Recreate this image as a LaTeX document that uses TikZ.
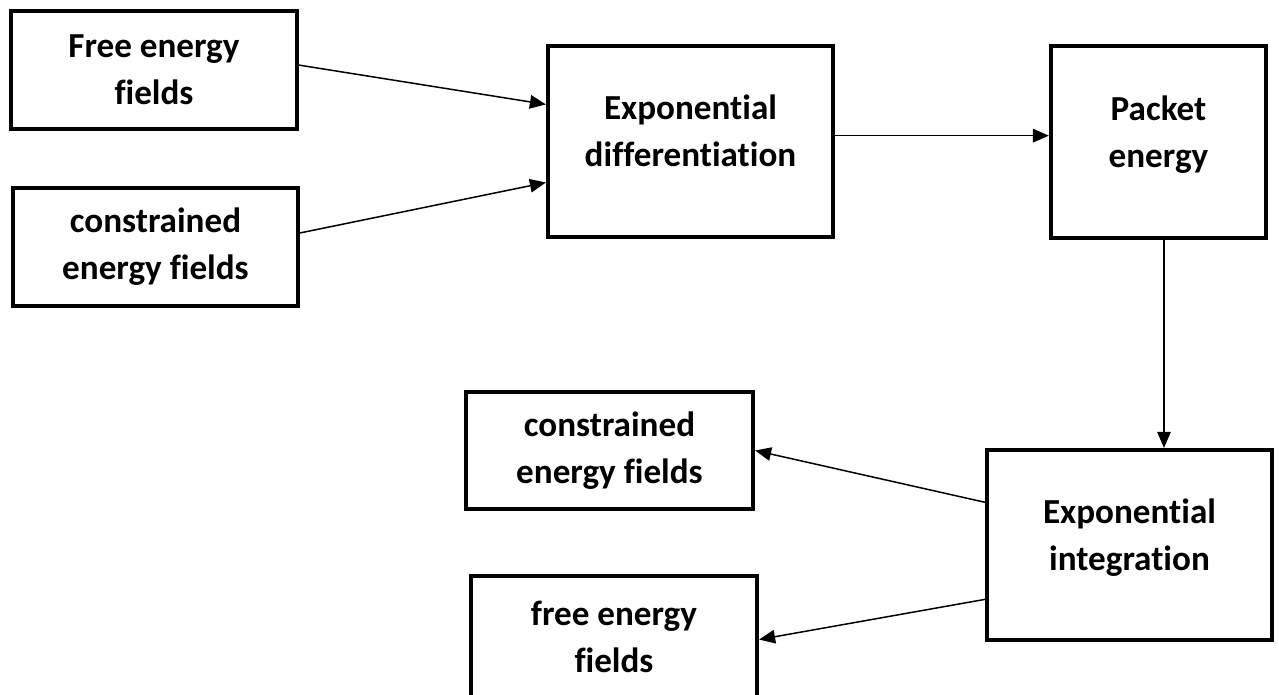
\documentclass[tikz,border=0pt]{standalone}
\usepackage{fontspec}
\setmainfont{Carlito}[Ligatures=NoCommon]
\usepackage{tikz}
\usetikzlibrary{positioning,arrows.meta,calc}

\tikzset{
    blockbox/.style={draw=black,line width=2.4pt,align=center,
        font=\fontsize{20}{26.7}\selectfont\bfseries,inner sep=0pt},
    tallbox/.style={blockbox,text depth=0.42cm},
    flowarrow/.style={line width=0.85pt,-{Triangle[length=0.32cm,width=0.27cm]}}
}

\begin{document}
\begin{tikzpicture}
    \useasboundingbox (0,0) rectangle (25.58,-13.88);

    % left inputs and first stage
    \node[blockbox,minimum width=5.72cm,minimum height=2.36cm] (freein) at (3.08,-1.40) {Free energy\\fields};
    \node[blockbox,minimum width=5.70cm,minimum height=2.36cm] (consin) at (3.11,-4.94) {constrained\\energy fields};
    \node[tallbox,minimum width=5.70cm,minimum height=3.82cm] (expdiff) at (13.81,-2.83) {Exponential\\differentiation};
    \node[tallbox,minimum width=4.30cm,minimum height=3.84cm] (packet) at (23.17,-2.84) {Packet\\energy};

    % second stage and outputs
    \node[tallbox,minimum width=5.70cm,minimum height=3.80cm] (expint) at (22.59,-10.90) {Exponential\\integration};
    \node[blockbox,minimum width=5.74cm,minimum height=2.34cm] (consout) at (12.19,-9.01) {constrained\\energy fields};
    \node[blockbox,minimum width=5.72cm,minimum height=2.44cm] (freeout) at (12.28,-12.74) {free energy\\fields};

    \draw[flowarrow] ($(freein.north east)!0.46!(freein.south east)$) -- ($(expdiff.north west)!0.31!(expdiff.south west)$);
    \draw[flowarrow] ($(consin.north east)!0.385!(consin.south east)$) -- ($(expdiff.north west)!0.71!(expdiff.south west)$);
    \draw[flowarrow] ($(expdiff.north east)!0.47!(expdiff.south east)$) coordinate (dout) -- (dout -| packet.west);
    \draw[flowarrow] ($(packet.south west)!0.525!(packet.south east)$) coordinate (pout) -- (pout |- expint.north);
    \draw[flowarrow] ($(expint.north west)!0.28!(expint.south west)$) -- (consout.east);
    \draw[flowarrow] ($(expint.north west)!0.78!(expint.south west)$) -- ($(freeout.north east)!0.52!(freeout.south east)$);
\end{tikzpicture}
\end{document}
